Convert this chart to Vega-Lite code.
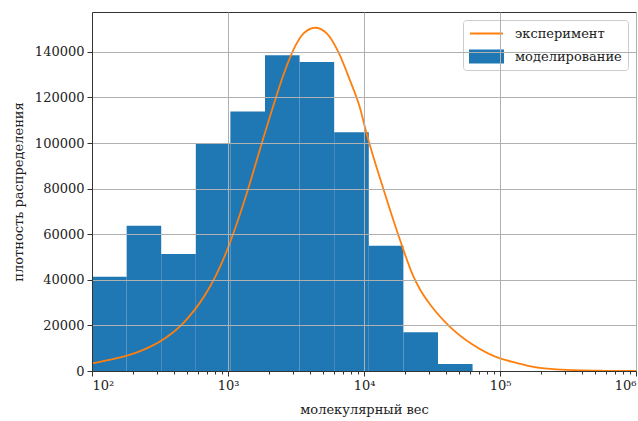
{
  "$schema": "https://vega.github.io/schema/vega-lite/v6.json",
  "width": 544,
  "height": 359,
  "autosize": {"type": "none"},
  "padding": {"left": 92, "top": 12, "right": 2, "bottom": 50},
  "background": "white",
  "config": {
    "font": "DejaVu Serif",
    "view": {"stroke": "#333333", "strokeWidth": 1},
    "axis": {
      "labelFont": "DejaVu Serif",
      "titleFont": "DejaVu Serif",
      "labelFontSize": 13,
      "titleFontSize": 13,
      "titleFontWeight": "normal",
      "labelColor": "#222222",
      "titleColor": "#222222",
      "tickColor": "#333333",
      "domainColor": "#333333",
      "gridColor": "#b0b0b0",
      "gridWidth": 1
    }
  },
  "datasets": {
    "hist": [
      {"lo": 100, "hi": 179.8, "density": 41400, "series": "моделирование"},
      {"lo": 179.8, "hi": 322.8, "density": 63700, "series": "моделирование"},
      {"lo": 322.8, "hi": 579.8, "density": 51300, "series": "моделирование"},
      {"lo": 579.8, "hi": 1041, "density": 99800, "series": "моделирование"},
      {"lo": 1041, "hi": 1871, "density": 113900, "series": "моделирование"},
      {"lo": 1871, "hi": 3360, "density": 138500, "series": "моделирование"},
      {"lo": 3360, "hi": 6036, "density": 135600, "series": "моделирование"},
      {"lo": 6036, "hi": 10845, "density": 104700, "series": "моделирование"},
      {"lo": 10845, "hi": 19480, "density": 54900, "series": "моделирование"},
      {"lo": 19480, "hi": 34995, "density": 17000, "series": "моделирование"},
      {"lo": 34995, "hi": 62850, "density": 3100, "series": "моделирование"}
    ],
    "curve": [
      {"mw": 100, "density": 3300, "series": "эксперимент"},
      {"mw": 126, "density": 4500, "series": "эксперимент"},
      {"mw": 170, "density": 6300, "series": "эксперимент"},
      {"mw": 214, "density": 8200, "series": "эксперимент"},
      {"mw": 269, "density": 10700, "series": "эксперимент"},
      {"mw": 347, "density": 14500, "series": "эксперимент"},
      {"mw": 444, "density": 19600, "series": "эксперимент"},
      {"mw": 525, "density": 24300, "series": "эксперимент"},
      {"mw": 622, "density": 30000, "series": "эксперимент"},
      {"mw": 724, "density": 36200, "series": "эксперимент"},
      {"mw": 826, "density": 42600, "series": "эксперимент"},
      {"mw": 977, "density": 52500, "series": "эксперимент"},
      {"mw": 1175, "density": 65600, "series": "эксперимент"},
      {"mw": 1409, "density": 80100, "series": "эксперимент"},
      {"mw": 1770, "density": 99800, "series": "эксперимент"},
      {"mw": 2218, "density": 118800, "series": "эксперимент"},
      {"mw": 2570, "density": 130300, "series": "эксперимент"},
      {"mw": 3020, "density": 140800, "series": "эксперимент"},
      {"mw": 3581, "density": 148000, "series": "эксперимент"},
      {"mw": 4365, "density": 150600, "series": "эксперимент"},
      {"mw": 5321, "density": 148100, "series": "эксперимент"},
      {"mw": 6471, "density": 140000, "series": "эксперимент"},
      {"mw": 7889, "density": 127500, "series": "эксперимент"},
      {"mw": 9333, "density": 115500, "series": "эксперимент"},
      {"mw": 10470, "density": 104000, "series": "эксперимент"},
      {"mw": 13870, "density": 80000, "series": "эксперимент"},
      {"mw": 18410, "density": 57500, "series": "эксперимент"},
      {"mw": 23070, "density": 41500, "series": "эксперимент"},
      {"mw": 25700, "density": 36000, "series": "эксперимент"},
      {"mw": 30550, "density": 29300, "series": "эксперимент"},
      {"mw": 42860, "density": 19400, "series": "эксперимент"},
      {"mw": 63680, "density": 11400, "series": "эксперимент"},
      {"mw": 100000, "density": 5500, "series": "эксперимент"},
      {"mw": 131800, "density": 3600, "series": "эксперимент"},
      {"mw": 175800, "density": 1800, "series": "эксперимент"},
      {"mw": 309000, "density": 450, "series": "эксперимент"},
      {"mw": 562000, "density": 100, "series": "эксперимент"},
      {"mw": 1000000, "density": 20, "series": "эксперимент"}
    ]
  },
  "layer": [
    {
      "data": {"name": "hist"},
      "mark": {"type": "rect"},
      "encoding": {
        "x": {
          "field": "lo",
          "type": "quantitative",
          "scale": {"type": "log", "domain": [100, 1000000], "nice": false},
          "axis": {
            "values": [100, 1000, 10000, 100000, 1000000],
            "labelExpr": "'10' + ['⁰','¹','²','³','⁴','⁵','⁶'][round(log(datum.value)/LN10)]",
            "grid": true,
            "tickSize": 5,
            "labelPadding": 3,
            "title": "молекулярный вес",
            "titlePadding": 11,
            "orient": "bottom",
            "zindex": 1
          }
        },
        "x2": {"field": "hi"},
        "y": {
          "field": "density",
          "type": "quantitative",
          "scale": {"domain": [0, 157500], "nice": false},
          "axis": {
            "values": [0, 20000, 40000, 60000, 80000, 100000, 120000, 140000],
            "format": "d",
            "grid": true,
            "tickSize": 5,
            "labelPadding": 3,
            "title": "плотность распределения",
            "titlePadding": 9,
            "zindex": 1
          }
        },
        "y2": {"datum": 0},
        "color": {
          "field": "series",
          "type": "nominal",
          "scale": {"domain": ["эксперимент", "моделирование"], "range": ["#ff7f0e", "#1f77b4"]},
          "legend": {
            "title": null,
            "orient": "top-right",
            "offset": 8,
            "padding": 6,
            "labelFont": "DejaVu Serif",
            "labelFontSize": 13,
            "labelColor": "#222222",
            "symbolSize": 1089,
            "clipHeight": 15,
            "rowPadding": 8,
            "labelOffset": 11,
            "fillColor": "rgba(255,255,255,0.8)",
            "strokeColor": "#cccccc",
            "cornerRadius": 3,
            "encode": {
              "symbols": {
                "update": {
                  "shape": {"signal": "datum.value === 'эксперимент' ? 'stroke' : 'M-1,-0.37H1V0.37H-1Z'"},
                  "fill": {"signal": "datum.value === 'эксперимент' ? 'transparent' : '#1f77b4'"},
                  "stroke": {"signal": "datum.value === 'эксперимент' ? '#ff7f0e' : 'transparent'"},
                  "strokeWidth": {"value": 2},
                  "opacity": {"value": 1}
                }
              }
            }
          }
        }
      }
    },
    {
      "data": {"name": "curve"},
      "mark": {"type": "line", "strokeWidth": 1.8, "interpolate": "monotone"},
      "encoding": {
        "x": {
          "field": "mw",
          "type": "quantitative",
          "scale": {"type": "log", "domain": [100, 1000000], "nice": false},
          "axis": {
            "values": [200, 300, 400, 500, 600, 700, 800, 900, 2000, 3000, 4000, 5000, 6000, 7000, 8000, 9000, 20000, 30000, 40000, 50000, 60000, 70000, 80000, 90000, 200000, 300000, 400000, 500000, 600000, 700000, 800000, 900000],
            "labels": false,
            "grid": false,
            "domain": false,
            "tickSize": 3,
            "title": null,
            "orient": "bottom"
          }
        },
        "y": {"field": "density", "type": "quantitative", "scale": {"domain": [0, 157500], "nice": false}},
        "color": {"field": "series", "type": "nominal"}
      }
    }
  ],
  "resolve": {"axis": {"x": "independent"}}
}
